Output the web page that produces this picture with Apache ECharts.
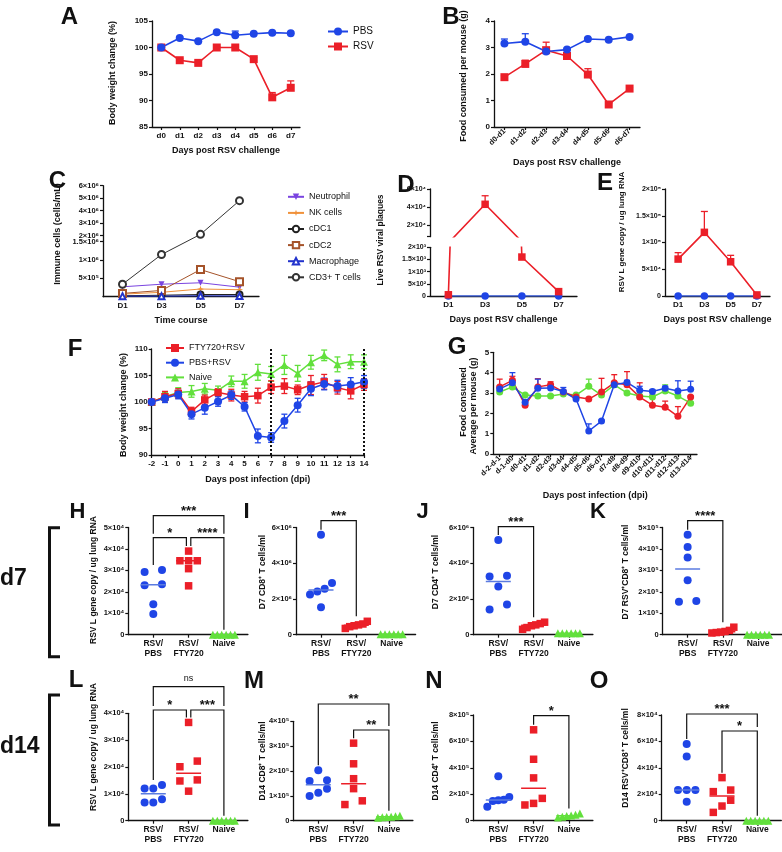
<!DOCTYPE html>
<html><head><meta charset="utf-8">
<script src="https://cdn.jsdelivr.net/npm/echarts@6/dist/echarts.min.js"></script>
<style>html,body{margin:0;padding:0;background:#fff}#c{width:782px;height:852px}</style>
</head><body><div id="c"></div>
<script>
// ================= DATA =================
const A_days = ['d0','d1','d2','d3','d4','d5','d6','d7'];
const A_pbs = [100,101.8,101.2,102.9,102.3,102.6,102.8,102.7];
const A_pbs_err = [0,0.2,0.2,0.2,0.8,0.2,0.2,0.2];
const A_rsv = [100,97.6,97.1,100,100,97.8,90.6,92.4];
const A_rsv_err = [0,0.3,0.3,0.2,0.2,0.3,0.9,1.3];

const B_days = ['d0-d1','d1-d2','d2-d3','d3-d4','d4-d5','d5-d6','d6-d7'];
const B_pbs = [3.15,3.22,2.85,2.92,3.32,3.29,3.4];
const B_pbs_err = [0.17,0.3,0.05,0.05,0.04,0.04,0.04];
const B_rsv = [1.88,2.38,2.9,2.68,1.98,0.85,1.45];
const B_rsv_err = [0.05,0.14,0.3,0.05,0.22,0.05,0.05];

const C_days = ['D1','D3','D5','D7'];
const C_neut = [2.7e5,3.4e5,3.8e5,2.6e5];
const C_nk = [7e4,1.2e5,2.1e5,1.9e5];
const C_cdc1 = [2.5e4,4e4,6e4,6e4];
const C_cdc2 = [9e4,1.7e5,7.4e5,4.1e5];
const C_mac = [1.5e4,1.5e4,2.5e4,2e4];
const C_cd3 = [3.4e5,1.15e6,2.09e6,4.8e6];
const C_yticks = [5e5,1e6,1.5e6,2e6,3e6,4e6,5e6,6e6];

const D_days = ['D1','D3','D5','D7'];
const D_rsv = [50,43000,1600,180];
const D_rsv_err = [0,9500,0,0];
const D_pbs = [0,0,0,0];
const D_upper_ticks = [2e4,4e4,6e4];

const E_days = ['D1','D3','D5','D7'];
const E_rsv = [6.9e4,1.19e5,6.4e4,2e3];
const E_rsv_err = [1.2e4,3.9e4,1.2e4,0];
const E_pbs = [0,0,0,0];

const F_days = [-2,-1,0,1,2,3,4,5,6,7,8,9,10,11,12,13,14];
const F_fty = [100,101,101.6,98.2,100.4,101.8,101.3,101,101.2,102.8,103,102.3,103.2,103.8,102.7,102.1,103.3];
const F_fty_err = [0.2,1.0,0.9,0.8,0.9,0.7,1.1,1.0,1.4,1.2,1.4,0.9,1.8,1.4,1.2,1.5,1.1];
const F_pbs = [100,100.7,101.4,97.7,98.9,100.1,101.3,99.1,93.6,93.3,96.4,99.4,102.5,103.4,103,103.3,103.8];
const F_pbs_err = [0.2,0.8,0.8,0.9,1.2,0.9,0.8,0.8,1.3,0.9,1.3,1.3,1.3,1.1,1.1,1.3,1.2];
const F_naive = [100,101,101.8,102,102.5,102.2,103.9,103.9,105.6,105.3,107,105.4,107.5,108.8,107.1,107.6,107.6];
const F_naive_err = [0.2,0.8,0.9,1.1,1.0,0.8,1.0,1.3,1.5,1.4,1.8,1.5,1.3,1.0,1.4,1.3,1.3];
const F_marks = [7,14];

const G_days = ['d-2-d-1','d-1-d0','d0-d1','d1-d2','d2-d3','d3-d4','d4-d5','d5-d6','d6-d7','d7-d8','d8-d9','d9-d10','d10-d11','d11-d12','d12-d13','d13-d14'];
const G_fty = [3.3,3.62,2.4,3.3,3.4,3.05,2.8,2.7,3.05,3.5,3.4,2.8,2.4,2.3,1.85,2.8];
const G_fty_err = [0.38,0.2,0.05,0.4,0.15,0.1,0.15,0.05,0.67,0.4,0.65,0.7,0.5,0.3,0.48,0.05];
const G_pbs = [3.2,3.5,2.55,3.23,3.25,3.07,2.7,1.13,1.62,3.4,3.52,3.13,3.07,3.23,3.1,3.18];
const G_pbs_err = [0.1,0.5,0.1,0.45,0.1,0.2,0.25,0.35,0.05,0.15,0.1,0.2,0.1,0.1,0.5,0.4];
const G_naive = [3.05,3.3,2.9,2.85,2.85,2.95,2.9,3.33,2.9,3.4,3.0,2.85,2.8,3.1,2.85,2.5];
const G_naive_err = [0.05,0.05,0.05,0.05,0.05,0.05,0.05,0.35,0.05,0.1,0.05,0.05,0.05,0.3,0.05,0.05];

const GROUP_LABELS = ['RSV/\nPBS','RSV/\nFTY720','Naive'];
const H_pbs = [2.92e4,3.02e4,2.31e4,2.35e4,1.42e4,0.97e4];
const H_fty = [3.9e4,3.45e4,3.45e4,3.45e4,3.08e4,2.28e4];
const H_naive = [0,0,0,0,0,0];
const H_brackets = [[0,1,'*',0],[1,2,'****',0],[0,2,'***',1]];
const I_pbs = [5.59e6,2.9e6,2.57e6,2.42e6,2.25e6,1.54e6];
const I_fty = [0.75e6,0.6e6,0.55e6,0.5e6,0.45e6,0.35e6];
const I_naive = [0.02e6,0.02e6,0.02e6,0.02e6,0.02e6,0.02e6];
const I_brackets = [[0,1,'***',0]];
const J_pbs = [5.3e6,3.3e6,3.26e6,2.7e6,1.69e6,1.41e6];
const J_fty = [0.7e6,0.62e6,0.55e6,0.5e6,0.4e6,0.3e6];
const J_naive = [0.08e6,0.08e6,0.08e6,0.08e6,0.08e6,0.08e6];
const J_brackets = [[0,1,'***',0]];
const K_pbs = [4.66e5,4.09e5,3.6e5,2.54e5,1.57e5,1.54e5];
const K_fty = [0.35e5,0.2e5,0.15e5,0.12e5,0.1e5,0.08e5];
const K_naive = [0,0,0,0,0,0];
const K_brackets = [[0,1,'****',0]];
const L_pbs = [1.33e4,1.2e4,1.2e4,0.8e4,0.68e4,0.68e4];
const L_fty = [3.66e4,2.22e4,2.01e4,1.52e4,1.48e4,1.1e4];
const L_naive = [0,0,0,0,0,0];
const L_brackets = [[0,1,'*',0],[1,2,'***',0],[0,2,'ns',1]];
const M_pbs = [2.03e5,1.63e5,1.6e5,1.29e5,1.12e5,0.99e5];
const M_fty = [3.12e5,2.29e5,1.69e5,1.29e5,0.8e5,0.65e5];
const M_naive = [0.2e5,0.18e5,0.16e5,0.15e5,0.14e5,0.12e5];
const M_brackets = [[1,2,'**',0],[0,2,'**',1]];
const N_pbs = [3.37e5,1.8e5,1.58e5,1.55e5,1.5e5,1.06e5];
const N_fty = [6.88e5,4.65e5,3.24e5,1.69e5,1.31e5,1.19e5];
const N_naive = [0.55e5,0.45e5,0.4e5,0.35e5,0.3e5,0.25e5];
const N_brackets = [[1,2,'*',0]];
const O_pbs = [5.81e4,4.85e4,2.32e4,2.32e4,2.32e4,1.44e4];
const O_fty = [3.26e4,2.32e4,2.2e4,1.55e4,1.11e4,0.63e4];
const O_naive = [0,0,0,0,0,0];
const O_brackets = [[1,2,'*',0],[0,2,'***',1]];

// ================= STYLE / HELPERS =================
const FONT = '"Liberation Sans", Arial, Helvetica, sans-serif';
const AX = '#111';
const BLUE='#1f45e6', RED='#eb1f28', GREEN='#62e03c', BLUE_MED='#5b7be0', BLUE_L='#3f63e2';
const SUP = {'0':'⁰','1':'¹','2':'²','3':'³','4':'⁴','5':'⁵','6':'⁶','7':'⁷','8':'⁸','9':'⁹','-':'⁻'};
function sci(v){
  v = Number(Number(v).toPrecision(6));
  if (Math.abs(v) < 1e-9) return '0';
  const e = Math.floor(Math.log10(v) + 1e-9);
  const m = Math.round(v / Math.pow(10, e) * 10) / 10;
  return m + '×10' + String(e).split('').map(c => SUP[c]).join('');
}
function deepMerge(a,b){
  for (const k in b){
    const bv=b[k];
    if (bv && typeof bv==='object' && !Array.isArray(bv) && a[k] && typeof a[k]==='object' && !Array.isArray(a[k])) deepMerge(a[k],bv);
    else a[k]=bv;
  }
  return a;
}
function median(arr){ const s=[...arr].sort((a,b)=>a-b); const n=s.length; return n%2? s[(n-1)/2] : (s[n/2-1]+s[n/2])/2; }

const grids=[], xAxes=[], yAxes=[], series=[], graphics=[], legends=[];
function addGrid(g){ grids.push(g); return grids.length-1; }
function mkAxis(type,o){
  const base={
    type,
    axisLine:{show:true,onZero:false,lineStyle:{color:AX,width:1.3}},
    axisTick:{show:true,length:3,lineStyle:{color:AX,width:1.2}},
    axisLabel:{color:AX,fontFamily:FONT,fontWeight:'bold',fontSize:8,margin:4},
    splitLine:{show:false},
    nameTextStyle:{color:AX,fontFamily:FONT,fontWeight:'bold',fontSize:9}
  };
  return deepMerge(base,o);
}
function addX(o){ return xAxes.push(mkAxis(o.type||'category',o))-1; }
function addY(o){ return yAxes.push(mkAxis(o.type||'value',o))-1; }
function lineS(name,xi,yi,data,color,symbol,size,extra){
  return deepMerge({type:'line',name,xAxisIndex:xi,yAxisIndex:yi,data,symbol,symbolSize:size,
    showSymbol:true,showAllSymbol:true,lineStyle:{color,width:1.6},itemStyle:{color,opacity:1},
    emphasis:{disabled:true},silent:true,z:3},extra||{});
}
function errBars(xi,yi,xs,vals,errs,color,both,cap){
  cap = cap||3.5;
  return {type:'custom',xAxisIndex:xi,yAxisIndex:yi,silent:true,z:2,clip:false,
    encode:{x:0,y:1},
    data: vals.map((v,i)=>[xs[i],v,errs[i]]),
    renderItem:(params,api)=>{
      const x=api.value(0), y=api.value(1), e=api.value(2);
      if(!(e>0)) return null;
      const c=api.coord([x,y]), t=api.coord([x,y+e]), b= both? api.coord([x,y-e]) : c;
      const st={stroke:color,lineWidth:1.3};
      const ch=[{type:'line',shape:{x1:c[0],y1:b[1],x2:c[0],y2:t[1]},style:st},
                {type:'line',shape:{x1:c[0]-cap,y1:t[1],x2:c[0]+cap,y2:t[1]},style:st}];
      if(both) ch.push({type:'line',shape:{x1:c[0]-cap,y1:b[1],x2:c[0]+cap,y2:b[1]},style:st});
      return {type:'group',children:ch};
    }};
}
function txt(text,x,y,size,opt){
  opt=opt||{};
  graphics.push({type:'text',x,y,rotation:opt.rot||0,silent:true,z:10,
    style:{text,fill:AX,fontFamily:FONT,fontWeight:opt.weight||'bold',fontSize:size,
      align:opt.align||'center',verticalAlign:'middle',textAlign:opt.align||'center',textVerticalAlign:'middle'}});
}
function yname(text,x,y,size){ txt(text,x,y,size,{rot:Math.PI/2}); }
const idx = n => Array.from({length:n},(_,i)=>i);

// ================= PANEL A =================
{
  const g=addGrid({left:152,top:21,width:148,height:106});
  const xi=addX({gridIndex:g,data:A_days,boundaryGap:true,axisTick:{alignWithLabel:true},axisLabel:{margin:5},
    name:'Days post RSV challenge',nameLocation:'middle',nameGap:19});
  const yi=addY({gridIndex:g,min:85,max:105,interval:5});
  series.push(errBars(xi,yi,idx(8),A_rsv,A_rsv_err,RED,false));
  series.push(errBars(xi,yi,idx(8),A_pbs,A_pbs_err,BLUE,false));
  series.push(lineS('RSV',xi,yi,A_rsv,RED,'rect',8));
  series.push(lineS('PBS',xi,yi,A_pbs,BLUE,'circle',8));
  legends.push({data:['PBS','RSV'],orient:'vertical',left:322,top:21.5,itemWidth:20,itemHeight:10,itemGap:5,
    selectedMode:false,textStyle:{fontSize:10,lineHeight:10,fontFamily:FONT,color:AX}});
  yname('Body weight change (%)',113,73,9);
}
// ================= PANEL B =================
{
  const g=addGrid({left:494,top:21,width:146,height:106});
  const xi=addX({gridIndex:g,data:B_days,boundaryGap:true,axisTick:{alignWithLabel:true},
    axisLabel:{rotate:45,margin:3,fontSize:7.5,interval:0},
    name:'Days post RSV challenge',nameLocation:'middle',nameGap:31});
  const yi=addY({gridIndex:g,min:0,max:4,interval:1});
  series.push(errBars(xi,yi,idx(7),B_rsv,B_rsv_err,RED,false));
  series.push(errBars(xi,yi,idx(7),B_pbs,B_pbs_err,BLUE,false));
  series.push(lineS('B-RSV',xi,yi,B_rsv,RED,'rect',8));
  series.push(lineS('B-PBS',xi,yi,B_pbs,BLUE,'circle',8));
  yname('Food consumed per mouse (g)',464,76,9);
}
// ================= PANEL C (broken scale) =================
{
  const ct = v => v<=1.5e6 ? v/1.5e6*55 : 55+(v-1.5e6)/4.5e6*56;
  const cinv = t => t<=55 ? t/55*1.5e6 : 1.5e6+(t-55)/56*4.5e6;
  const g=addGrid({left:103,top:185.7,width:156,height:111});
  const xi=addX({gridIndex:g,data:C_days,boundaryGap:true,axisTick:{alignWithLabel:true},axisLabel:{margin:5},
    name:'Time course',nameLocation:'middle',nameGap:19});
  const tv=C_yticks.map(ct);
  const yi=addY({gridIndex:g,min:0,max:111,axisLabel:{customValues:tv,formatter:v=>sci(cinv(v)),fontSize:7.5},
    axisTick:{customValues:tv}});
  const defs=[
    ['Neutrophil',C_neut,'#7a44e0','triangle',6,{symbolRotate:180}],
    ['NK cells',C_nk,'#f0913a','path://M0,-10 L2.5,-2.5 L10,0 L2.5,2.5 L0,10 L-2.5,2.5 L-10,0 L-2.5,-2.5Z',7,{}],
    ['cDC1',C_cdc1,'#222','emptyCircle',6,{}],
    ['cDC2',C_cdc2,'#a5532a','emptyRect',7,{}],
    ['Macrophage',C_mac,'#2233cc','emptyTriangle',6,{}],
    ['CD3+ T cells',C_cd3,'#333','emptyCircle',7,{}]
  ];
  defs.forEach(d=>series.push(lineS(d[0],xi,yi,d[1].map(ct),d[2],d[3],d[4],Object.assign({lineStyle:{width:1}},d[5]))));
  legends.push({data:defs.map(d=>d[0]),orient:'vertical',left:282,top:187.3,itemWidth:16,itemHeight:8,itemGap:7.1,
    selectedMode:false,textStyle:{fontSize:9,lineHeight:8,fontFamily:FONT,color:AX}});
  yname('Immune cells (cells/mL)',57.5,234,9);
}
// ================= PANEL D (two segments) =================
{
  const gu=addGrid({left:430,top:189,width:147,height:47.7});
  const gl=addGrid({left:430,top:247.3,width:147,height:48.7});
  const xu=addX({gridIndex:gu,data:D_days,boundaryGap:true,show:false});
  const yu=addY({gridIndex:gu,min:7000,max:60000,axisLabel:{customValues:D_upper_ticks,formatter:sci,fontSize:7},
    axisTick:{customValues:[7000].concat(D_upper_ticks)}});
  const xl=addX({gridIndex:gl,data:D_days,boundaryGap:true,axisTick:{alignWithLabel:true},axisLabel:{margin:5},
    name:'Days post RSV challenge',nameLocation:'middle',nameGap:19});
  const yl=addY({gridIndex:gl,min:0,max:2000,interval:500,axisLabel:{formatter:sci,fontSize:7}});
  series.push(errBars(xu,yu,idx(4),D_rsv,D_rsv_err,RED,false));
  series.push(lineS('D-RSV-u',xu,yu,D_rsv,RED,'rect',7.5,{clip:true}));
  series.push(lineS('D-PBS',xl,yl,D_pbs,BLUE_L,'circle',7.5,{clip:true,itemStyle:{color:BLUE}}));
  series.push(lineS('D-RSV-l',xl,yl,D_rsv,RED,'rect',7.5,{clip:true}));
  yname('Live RSV viral plaques',380.5,240,8.5);
}
// ================= PANEL E =================
{
  const g=addGrid({left:665,top:189,width:105,height:107});
  const xi=addX({gridIndex:g,data:E_days,boundaryGap:true,axisTick:{alignWithLabel:true},axisLabel:{margin:5},
    name:'Days post RSV challenge',nameLocation:'middle',nameGap:19});
  const yi=addY({gridIndex:g,min:0,max:2e5,interval:5e4,axisLabel:{formatter:sci,fontSize:7}});
  series.push(errBars(xi,yi,idx(4),E_rsv,E_rsv_err,RED,false));
  series.push(lineS('E-PBS',xi,yi,E_pbs,BLUE_L,'circle',7.5,{itemStyle:{color:BLUE}}));
  series.push(lineS('E-RSV',xi,yi,E_rsv,RED,'rect',7.5));
  yname('RSV L gene copy / ug lung RNA',621.7,232,8);
}
// ================= PANEL F =================
{
  const g=addGrid({left:151.7,top:349,width:212.3,height:106});
  const xi=addX({type:'value',gridIndex:g,min:-2,max:14,interval:1,axisLabel:{margin:5},
    name:'Days post infection (dpi)',nameLocation:'middle',nameGap:20});
  const yi=addY({gridIndex:g,min:90,max:110,interval:5});
  const pts = vals => vals.map((v,i)=>[F_days[i],v]);
  series.push(errBars(xi,yi,F_days,F_naive,F_naive_err,GREEN,true,3));
  series.push(errBars(xi,yi,F_days,F_fty,F_fty_err,RED,true,3));
  series.push(errBars(xi,yi,F_days,F_pbs,F_pbs_err,BLUE,true,3));
  series.push(lineS('Naive',xi,yi,pts(F_naive),GREEN,'triangle',8,{lineStyle:{width:1.5},
    markLine:{symbol:'none',silent:true,label:{show:false},lineStyle:{type:'dotted',color:AX,width:2},
      data:F_marks.map(d=>({xAxis:d}))}}));
  series.push(lineS('FTY720+RSV',xi,yi,pts(F_fty),RED,'rect',7.5,{lineStyle:{width:1.5}}));
  series.push(lineS('PBS+RSV',xi,yi,pts(F_pbs),BLUE,'circle',8,{lineStyle:{width:1.5}}));
  legends.push({data:['FTY720+RSV','PBS+RSV','Naive'],orient:'vertical',left:160,top:338,itemWidth:18,itemHeight:10,itemGap:4.7,
    selectedMode:false,textStyle:{fontSize:9,lineHeight:10,fontFamily:FONT,color:AX}});
  yname('Body weight change (%)',123.3,405,9);
}
// ================= PANEL G =================
{
  const g=addGrid({left:493.3,top:352.3,width:203.7,height:101.7});
  const xi=addX({gridIndex:g,data:G_days,boundaryGap:true,axisTick:{alignWithLabel:true},
    axisLabel:{rotate:45,margin:3,fontSize:7.5,interval:0},
    name:'Days post infection (dpi)',nameLocation:'middle',nameGap:37});
  const yi=addY({gridIndex:g,min:0,max:5,interval:1});
  series.push(errBars(xi,yi,idx(16),G_naive,G_naive_err,GREEN,false,3));
  series.push(errBars(xi,yi,idx(16),G_fty,G_fty_err,RED,false,3));
  series.push(errBars(xi,yi,idx(16),G_pbs,G_pbs_err,BLUE,false,3));
  series.push(lineS('G-Naive',xi,yi,G_naive,GREEN,'circle',7,{lineStyle:{width:1.5}}));
  series.push(lineS('G-FTY',xi,yi,G_fty,RED,'circle',7,{lineStyle:{width:1.5}}));
  series.push(lineS('G-PBS',xi,yi,G_pbs,BLUE,'circle',7,{lineStyle:{width:1.5}}));
  yname('Food consumed',463.3,402,9);
  yname('Average per mouse (g)',473.3,406,9);
}
// ================= SCATTER PANELS H-O =================
function swarm(vals,pxPerY){
  const S=8.7, GAP=7, W=11;
  const ord=vals.map((v,i)=>i).sort((a,b)=>vals[a]-vals[b]);
  const offs=new Array(vals.length).fill(0);
  const flush=c=>{const n=c.length; let o;
    if(n===1) o=[0]; else if(n===2) o=[-S,S]; else if(n===3) o=[-S,0,S]; else o=c.map((_,k)=>-W+2*W*k/(n-1));
    c.forEach((id,k)=>offs[id]=o[k]);};
  let cl=[ord[0]];
  for(let k=1;k<ord.length;k++){
    if((vals[ord[k]]-vals[ord[k-1]])*pxPerY<GAP) cl.push(ord[k]); else {flush(cl); cl=[ord[k]];}
  }
  flush(cl);
  return offs;
}
function scatterPanel(p){
  const SP=35.3, LP=25, RP=24;
  const width=LP+2*SP+RP, height=p.bottom-p.top;
  const g=addGrid({left:p.left,top:p.top,width,height});
  const xi=addX({type:'value',gridIndex:g,min:-LP/SP,max:2+RP/SP,
    axisLabel:{customValues:[0,1,2],formatter:v=>GROUP_LABELS[Math.round(v)],fontSize:8.5,lineHeight:10,verticalAlign:'top',margin:4},
    axisTick:{customValues:[0,1,2]}});
  const yi=addY({gridIndex:g,min:0,max:p.ymax,interval:p.yint,axisLabel:{formatter:sci,fontSize:7.5}});
  const pxPerY=height/p.ymax;
  const st=[{c:BLUE,s:'circle',m:BLUE_MED},{c:RED,s:'rect',m:RED},{c:GREEN,s:'triangle',m:GREEN}];
  p.groups.forEach((vals,gi)=>{
    const offs=swarm(vals,pxPerY);
    series.push({type:'scatter',xAxisIndex:xi,yAxisIndex:yi,symbol:st[gi].s,symbolSize:gi===1?7.5:8,
      itemStyle:{color:st[gi].c,opacity:1},silent:true,z:3,clip:false,
      data:vals.map((v,i)=>[gi+offs[i]/SP,v])});
    const med=median(vals);
    series.push({type:'line',xAxisIndex:xi,yAxisIndex:yi,symbol:'none',showSymbol:false,silent:true,z:4,
      lineStyle:{color:st[gi].m,width:1.5},data:[[gi-12.5/SP,med],[gi+12.5/SP,med]]});
  });
  // brackets
  const toVal=py=>(p.bottom-py)/pxPerY;
  const geom=p.brackets.map(b=>{
    const [a,c,label,tier]=b; const yb=p.tierY[tier];
    const legEnd=gidx=>{
      let lim=p.bottom-Math.max(...p.groups[gidx])*pxPerY-5;
      p.brackets.forEach(o=>{ if(o[3]<tier && o[0]<=gidx && o[1]>=gidx) lim=Math.min(lim,p.tierY[o[3]]-4); });
      return Math.max(lim,yb+3);
    };
    const shared=(gidx,side)=>p.brackets.some(o=>o!==b && o[3]===tier && (side==='r'? o[0]===gidx : o[1]===gidx));
    const x1=a+(shared(a,'l')?2.2/SP:0), x2=c-(shared(c,'r')?2.2/SP:0);
    return {x1,x2,yb:toVal(yb),l1:toVal(legEnd(a)),l2:toVal(legEnd(c)),label};
  });
  series.push({type:'custom',xAxisIndex:xi,yAxisIndex:yi,clip:false,silent:true,z:5,encode:{x:0,y:1},
    data:geom.map(d=>[(d.x1+d.x2)/2,d.yb]),
    renderItem:(params,api)=>{
      const d=geom[params.dataIndex];
      const p1=api.coord([d.x1,d.l1]),p2=api.coord([d.x1,d.yb]),p3=api.coord([d.x2,d.yb]),p4=api.coord([d.x2,d.l2]);
      const ns=d.label==='ns';
      return {type:'group',children:[
        {type:'polyline',shape:{points:[p1,p2,p3,p4]},style:{stroke:AX,lineWidth:1.2,fill:null}},
        {type:'text',x:(p2[0]+p3[0])/2,y:p2[1]+(ns?-8:-4.4),style:{text:d.label,fill:AX,fontFamily:FONT,
          fontWeight:ns?'normal':'bold',fontSize:ns?9:13,align:'center',verticalAlign:'middle'}}
      ]};
    }});
}
scatterPanel({left:128.3,top:527.5,bottom:634.7,ymax:5e4,yint:1e4,groups:[H_pbs,H_fty,H_naive],brackets:H_brackets,tierY:[537.7,515.7]});
scatterPanel({left:296,top:527.5,bottom:634.7,ymax:6e6,yint:2e6,groups:[I_pbs,I_fty,I_naive],brackets:I_brackets,tierY:[520.7]});
scatterPanel({left:473.3,top:527.5,bottom:634.7,ymax:6e6,yint:2e6,groups:[J_pbs,J_fty,J_naive],brackets:J_brackets,tierY:[526.7]});
scatterPanel({left:662.7,top:527.5,bottom:634.7,ymax:5e5,yint:1e5,groups:[K_pbs,K_fty,K_naive],brackets:K_brackets,tierY:[520.7]});
scatterPanel({left:128.3,top:713.3,bottom:820.7,ymax:4e4,yint:1e4,groups:[L_pbs,L_fty,L_naive],brackets:L_brackets,tierY:[710,686.7]});
scatterPanel({left:293.3,top:721.3,bottom:820.7,ymax:4e5,yint:1e5,groups:[M_pbs,M_fty,M_naive],brackets:M_brackets,tierY:[730,704]});
scatterPanel({left:473.3,top:715,bottom:820.7,ymax:8e5,yint:2e5,groups:[N_pbs,N_fty,N_naive],brackets:N_brackets,tierY:[715.7]});
scatterPanel({left:661.7,top:715,bottom:820.7,ymax:8e4,yint:2e4,groups:[O_pbs,O_fty,O_naive],brackets:O_brackets,tierY:[731,714]});

yname('RSV L gene copy / ug lung RNA',94,580,8.5);
yname('D7 CD8⁺ T cells/ml',262.5,572,8.5);
yname('D7 CD4⁺ T cells/ml',436,572,8.5);
yname('D7 RSV⁺CD8⁺ T cells/ml',626,572,8.5);
yname('RSV L gene copy / ug lung RNA',94,747,8.5);
yname('D14 CD8⁺ T cells/ml',262.5,761,8.5);
yname('D14 CD4⁺ T cells/ml',436,761,8.5);
yname('D14 RSV⁺CD8⁺ T cells/ml',626,758,8.5);

// panel letters
[['A',69.5,17,24],['B',451,17,24],['C',57.5,181,24],['D',406,185,24],['E',605,183,24],['F',75,349,24],['G',457,347,24],
 ['H',77.5,512,22],['I',246.5,512,22],['J',422.5,512,22],['K',598,512,22],
 ['L',76,680,24],['M',254,681,24],['N',434,681,24],['O',599,681,24]].forEach(l=>txt(l[0],l[1],l[2],l[3]));
txt('d7',0,579,23,{align:'left'});
txt('d14',0,747,23,{align:'left'});
graphics.push({type:'polyline',silent:true,shape:{points:[[60,527.7],[49.5,527.7],[49.5,656.7],[60,656.7]]},style:{stroke:AX,lineWidth:3,fill:null}});
graphics.push({type:'polyline',silent:true,shape:{points:[[60,695],[49.5,695],[49.5,825],[60,825]]},style:{stroke:AX,lineWidth:3,fill:null}});

const chart=echarts.init(document.getElementById('c'),null,{renderer:'canvas',width:782,height:852});
chart.setOption({animation:false,backgroundColor:'#fff',grid:grids,xAxis:xAxes,yAxis:yAxes,series,legend:legends,graphic:{elements:graphics}});
</script></body></html>
